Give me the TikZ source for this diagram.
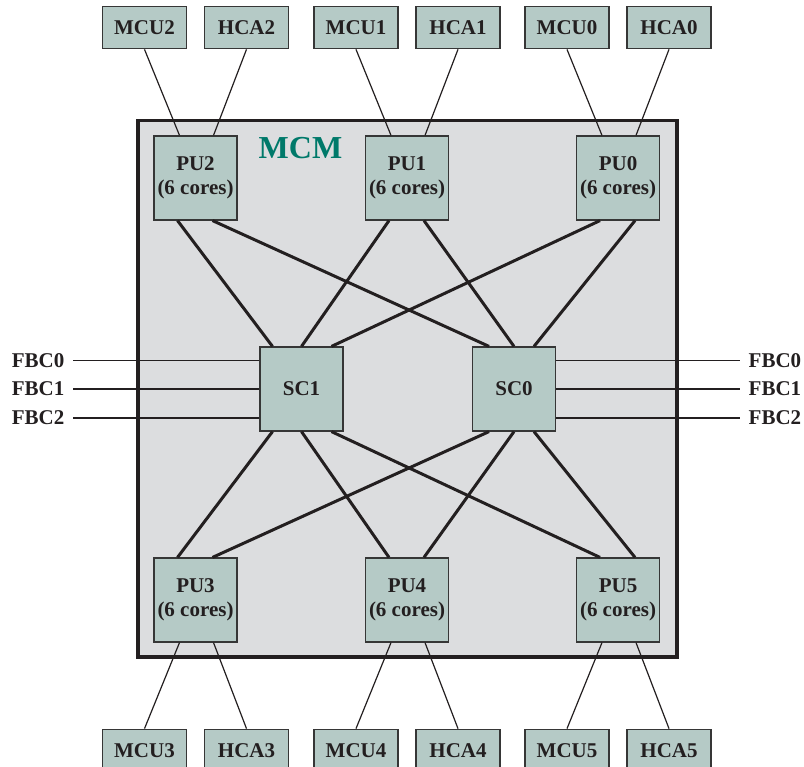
\documentclass[tikz,border=0pt]{standalone}
\usepackage{fontspec}
\setmainfont{Liberation Serif}
\usepackage{xcolor}
\usetikzlibrary{positioning}
\definecolor{mcmFill}{HTML}{DCDDDF}
\definecolor{mcmTeal}{HTML}{00796A}
\definecolor{unitFill}{HTML}{B5CAC6}
\definecolor{unitEdge}{HTML}{363636}
\definecolor{inkDark}{HTML}{231F20}
\tikzset{
  unit font/.style={font=\bfseries\fontsize{21}{23.5}\selectfont, text=inkDark},
  pu box/.style={unit font, draw=unitEdge, line width=1.2pt, fill=unitFill,
    align=center, minimum width=83pt, minimum height=84pt, inner sep=0pt},
  sc box/.style={pu box},
  port box/.style={unit font, draw=unitEdge, line width=1.2pt, fill=unitFill,
    minimum width=84pt, minimum height=42pt, inner sep=0pt},
  mcm frame/.style={draw=inkDark, line width=3.5pt, fill=mcmFill},
  fbc label/.style={unit font, inner xsep=8.5pt, inner ysep=0pt},
  link/.style={draw=inkDark, line width=1.2pt},
  bus/.style={draw=inkDark, line width=3pt}
}
\begin{document}
\begin{tikzpicture}[x=1pt, y=-1pt]
  \useasboundingbox (0,0) rectangle (804,767);
  \draw[mcm frame] (138,120.5) rectangle (677,657);
  \node[text=mcmTeal, font=\bfseries\fontsize{32}{34}\selectfont] (mcm) at (300.5,148.5) {MCM};
  \node[pu box] (pu2) at (195.5,178) {PU2\\(6 cores)};
  \node[pu box] (pu1) at (407,178) {PU1\\(6 cores)};
  \node[pu box] (pu0) at (618,178) {PU0\\(6 cores)};
  \node[sc box] (sc1) at (301.5,389) {SC1};
  \node[sc box] (sc0) at (514,389) {SC0};
  \node[pu box] (pu3) at (195.5,600) {PU3\\(6 cores)};
  \node[pu box] (pu4) at (407,600) {PU4\\(6 cores)};
  \node[pu box] (pu5) at (618,600) {PU5\\(6 cores)};
  \node[port box, above=86pt of pu2, xshift=-51pt] (mcu2) {MCU2};
  \node[port box, above=86pt of pu2, xshift=51pt] (hca2) {HCA2};
  \node[port box, above=86pt of pu1, xshift=-51pt] (mcu1) {MCU1};
  \node[port box, above=86pt of pu1, xshift=51pt] (hca1) {HCA1};
  \node[port box, above=86pt of pu0, xshift=-51pt] (mcu0) {MCU0};
  \node[port box, above=86pt of pu0, xshift=51pt] (hca0) {HCA0};
  \node[port box, below=86pt of pu3, xshift=-51pt] (mcu3) {MCU3};
  \node[port box, below=86pt of pu3, xshift=51pt] (hca3) {HCA3};
  \node[port box, below=86pt of pu4, xshift=-51pt] (mcu4) {MCU4};
  \node[port box, below=86pt of pu4, xshift=51pt] (hca4) {HCA4};
  \node[port box, below=86pt of pu5, xshift=-51pt] (mcu5) {MCU5};
  \node[port box, below=86pt of pu5, xshift=51pt] (hca5) {HCA5};
  \draw[link] (mcu2.south) -- ([xshift=-16pt]pu2.north); \draw[link] (hca2.south) -- ([xshift=18pt]pu2.north);
  \draw[link] (mcu1.south) -- ([xshift=-16pt]pu1.north); \draw[link] (hca1.south) -- ([xshift=18pt]pu1.north);
  \draw[link] (mcu0.south) -- ([xshift=-16pt]pu0.north); \draw[link] (hca0.south) -- ([xshift=18pt]pu0.north);
  \draw[link] (mcu3.north) -- ([xshift=-16pt]pu3.south); \draw[link] (hca3.north) -- ([xshift=18pt]pu3.south);
  \draw[link] (mcu4.north) -- ([xshift=-16pt]pu4.south); \draw[link] (hca4.north) -- ([xshift=18pt]pu4.south);
  \draw[link] (mcu5.north) -- ([xshift=-16pt]pu5.south); \draw[link] (hca5.north) -- ([xshift=18pt]pu5.south);
  \draw[bus] ([xshift=-18pt]pu2.south) -- ([xshift=-29pt]sc1.north);
  \draw[bus] ([xshift=17pt]pu2.south) -- ([xshift=-25pt]sc0.north);
  \draw[bus] ([xshift=-18pt]pu1.south) -- (sc1.north);
  \draw[bus] ([xshift=17pt]pu1.south) -- (sc0.north);
  \draw[bus] ([xshift=-18pt]pu0.south) -- ([xshift=30pt]sc1.north);
  \draw[bus] ([xshift=17pt]pu0.south) -- ([xshift=20pt]sc0.north);
  \draw[bus] ([xshift=-29pt]sc1.south) -- ([xshift=-18pt]pu3.north);
  \draw[bus] (sc1.south) -- ([xshift=-18pt]pu4.north);
  \draw[bus] ([xshift=30pt]sc1.south) -- ([xshift=-18pt]pu5.north);
  \draw[bus] ([xshift=-25pt]sc0.south) -- ([xshift=17pt]pu3.north);
  \draw[bus] (sc0.south) -- ([xshift=17pt]pu4.north);
  \draw[bus] ([xshift=20pt]sc0.south) -- ([xshift=17pt]pu5.north);
  \node[fbc label, anchor=east] (fbcL0) at (73,360.5) {FBC0};
  \node[fbc label, anchor=east] (fbcL1) at (73,389) {FBC1};
  \node[fbc label, anchor=east] (fbcL2) at (73,418) {FBC2};
  \node[fbc label, anchor=west] (fbcR0) at (740,360.5) {FBC0};
  \node[fbc label, anchor=west] (fbcR1) at (740,389) {FBC1};
  \node[fbc label, anchor=west] (fbcR2) at (740,418) {FBC2};
  \draw[link] (fbcL0.east) -- (fbcL0.east -| sc1.west); \draw[link] (sc0.east |- fbcR0.west) -- (fbcR0.west);
  \draw[link] (fbcL1.east) -- (fbcL1.east -| sc1.west); \draw[link] (sc0.east |- fbcR1.west) -- (fbcR1.west);
  \draw[link] (fbcL2.east) -- (fbcL2.east -| sc1.west); \draw[link] (sc0.east |- fbcR2.west) -- (fbcR2.west);
\end{tikzpicture}
\end{document}
